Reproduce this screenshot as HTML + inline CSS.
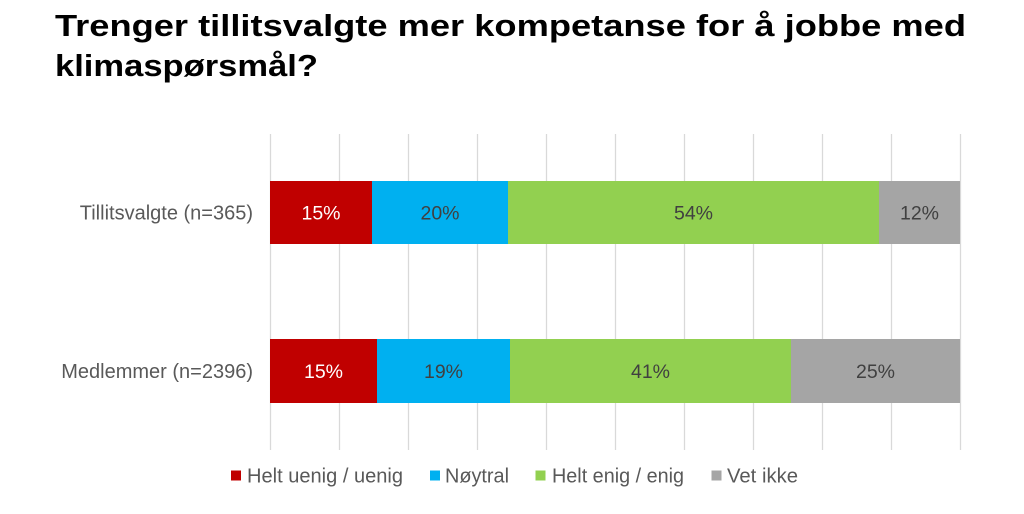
<!DOCTYPE html>
<html><head><meta charset="utf-8"><style>
html,body{margin:0;padding:0;background:#fff;}
svg{display:block;}
</style></head><body>
<svg width="1024" height="514" viewBox="0 0 1024 514" xmlns="http://www.w3.org/2000/svg" font-family="Liberation Sans, Arial, sans-serif">
<rect width="1024" height="514" fill="#fff"/>
<text x="55" y="36" font-size="31" font-weight="bold" fill="#000" textLength="911" lengthAdjust="spacingAndGlyphs">Trenger tillitsvalgte mer kompetanse for å jobbe med</text>
<text x="55" y="76" font-size="31" font-weight="bold" fill="#000" textLength="263" lengthAdjust="spacingAndGlyphs">klimaspørsmål?</text>
<g stroke="#d9d9d9" stroke-width="1.3">
<line x1="270.5" y1="134" x2="270.5" y2="450"/>
<line x1="339.5" y1="134" x2="339.5" y2="450"/>
<line x1="408.5" y1="134" x2="408.5" y2="450"/>
<line x1="477.5" y1="134" x2="477.5" y2="450"/>
<line x1="546.5" y1="134" x2="546.5" y2="450"/>
<line x1="615.5" y1="134" x2="615.5" y2="450"/>
<line x1="684.5" y1="134" x2="684.5" y2="450"/>
<line x1="753.5" y1="134" x2="753.5" y2="450"/>
<line x1="822.5" y1="134" x2="822.5" y2="450"/>
<line x1="891.5" y1="134" x2="891.5" y2="450"/>
<line x1="960.5" y1="134" x2="960.5" y2="450"/>
</g>
<!-- bar 1 -->
<rect x="270" y="181" width="102" height="63" fill="#C00000"/>
<rect x="372" y="181" width="136" height="63" fill="#00B0F0"/>
<rect x="508" y="181" width="371" height="63" fill="#92D050"/>
<rect x="879" y="181" width="81" height="63" fill="#A5A5A5"/>
<!-- bar 2 -->
<rect x="270" y="339" width="107" height="64" fill="#C00000"/>
<rect x="377" y="339" width="133" height="64" fill="#00B0F0"/>
<rect x="510" y="339" width="281" height="64" fill="#92D050"/>
<rect x="791" y="339" width="169" height="64" fill="#A5A5A5"/>
<g font-size="19.5" text-anchor="middle" fill="#404040">
<text x="321" y="219.5" fill="#fff">15%</text>
<text x="440" y="219.5">20%</text>
<text x="693.5" y="219.5">54%</text>
<text x="919.5" y="219.5">12%</text>
<text x="323.5" y="378" fill="#fff">15%</text>
<text x="443.5" y="378">19%</text>
<text x="650.5" y="378">41%</text>
<text x="875.5" y="378">25%</text>
</g>
<g font-size="20" text-anchor="end" fill="#595959">
<text x="253" y="219.5">Tillitsvalgte (n=365)</text>
<text x="253" y="378">Medlemmer (n=2396)</text>
</g>
<g font-size="20" fill="#595959">
<rect x="231" y="470.5" width="10" height="10" fill="#C00000"/>
<text x="247" y="482.5" textLength="156" lengthAdjust="spacingAndGlyphs">Helt uenig / uenig</text>
<rect x="430" y="470.5" width="10" height="10" fill="#00B0F0"/>
<text x="445" y="482.5" textLength="64" lengthAdjust="spacingAndGlyphs">Nøytral</text>
<rect x="535.5" y="470.5" width="10" height="10" fill="#92D050"/>
<text x="552" y="482.5" textLength="132" lengthAdjust="spacingAndGlyphs">Helt enig / enig</text>
<rect x="711.5" y="470.5" width="10" height="10" fill="#A5A5A5"/>
<text x="727" y="482.5" textLength="71" lengthAdjust="spacingAndGlyphs">Vet ikke</text>
</g>
</svg>
</body></html>
